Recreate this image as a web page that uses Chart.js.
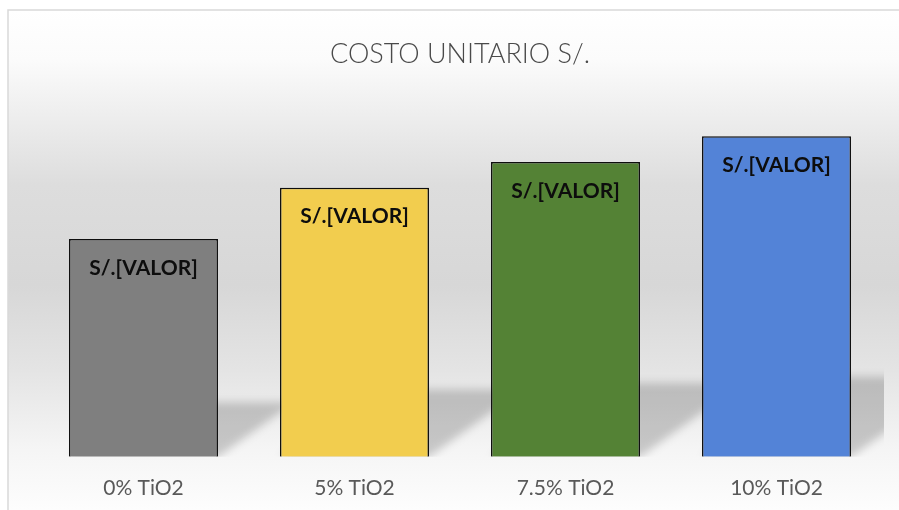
<!DOCTYPE html>
<html>
<head>
<meta charset="utf-8">
<script src="https://cdn.jsdelivr.net/npm/chart.js@4.4.1/dist/chart.umd.min.js"></script>
<style>
  html, body { margin: 0; padding: 0; background: #fff; }
  #wrap { width: 899px; height: 510px; position: relative; }
</style>
</head>
<body>
<div id="wrap"><canvas id="costo"></canvas></div>
<script>
const categorias = ['0% TiO2', '5% TiO2', '7.5% TiO2', '10% TiO2'];
const costos = [4.25, 5.25, 5.75, 6.25];
const colores = ['#7f7f7f', '#f2cd4e', '#548235', '#5383d7'];
const etiqueta = 'S/.[VALOR]';

// fondo con degradado vertical y marco gris claro
const fondo = {
    id: 'fondo',
    beforeDraw(chart) {
        const c = chart.ctx;
        c.save();
        c.fillStyle = '#fff';
        c.fillRect(0, 0, chart.width, chart.height);
        const g = c.createLinearGradient(0, 10, 0, 510);
        g.addColorStop(0, '#ffffff');
        g.addColorStop(0.1, '#fbfbfb');
        g.addColorStop(0.35, '#dddddd');
        g.addColorStop(0.55, '#d7d7d7');
        g.addColorStop(0.72, '#e4e4e4');
        g.addColorStop(0.88, '#f5f5f5');
        g.addColorStop(1, '#fdfdfd');
        c.fillStyle = g;
        c.fillRect(8, 10, chart.width - 8, chart.height - 10);
        c.strokeStyle = '#d9d9d9';
        c.lineWidth = 1.5;
        c.beginPath();
        c.moveTo(8, chart.height);
        c.lineTo(8, 10);
        c.lineTo(chart.width, 10);
        c.stroke();
        c.restore();
    }
};

// sombra en perspectiva detrás de cada barra
const sombras = {
    id: 'sombras',
    beforeDatasetsDraw(chart) {
        const c = chart.ctx;
        const area = chart.chartArea;
        c.save();
        c.beginPath();
        c.rect(area.left - 30, area.top, area.right - area.left + 32, area.bottom - area.top);
        c.clip();
        c.filter = 'blur(4px)';
        c.fillStyle = 'rgba(0,0,0,0.19)';
        chart.getDatasetMeta(0).data.forEach(bar => {
            const izq = bar.x - bar.width / 2;
            const der = bar.x + bar.width / 2;
            const alto = (bar.base - bar.y) * 0.25;
            const desvio = alto * 1.4;
            c.beginPath();
            c.moveTo(izq, bar.base);
            c.lineTo(der, bar.base);
            c.lineTo(der + desvio, bar.base - alto);
            c.lineTo(izq + desvio, bar.base - alto);
            c.closePath();
            c.fill();
        });
        c.restore();
    }
};

// texto de cada barra
const etiquetas = {
    id: 'etiquetas',
    afterDatasetsDraw(chart) {
        const c = chart.ctx;
        c.save();
        c.font = 'bold 21px Lato, "Liberation Sans", sans-serif';
        c.fillStyle = '#0d0d0d';
        c.textAlign = 'center';
        c.textBaseline = 'middle';
        chart.getDatasetMeta(0).data.forEach(bar => {
            c.fillText(etiqueta, bar.x, bar.y + 29);
        });
        c.restore();
    }
};

new Chart(document.getElementById('costo'), {
    type: 'bar',
    data: {
        labels: categorias,
        datasets: [{
            data: costos,
            backgroundColor: colores,
            borderColor: '#0d0d0d',
            borderWidth: 1.5,
            categoryPercentage: 1,
            barPercentage: 0.706
        }]
    },
    options: {
        responsive: true,
        maintainAspectRatio: false,
        animation: false,
        layout: { padding: { left: 38, right: 17, top: 0, bottom: -10 } },
        plugins: {
            legend: { display: false },
            tooltip: { enabled: false },
            title: {
                display: true,
                text: 'COSTO UNITARIO S/.',
                color: '#4a4a4a',
                font: { family: 'Lato, "Liberation Sans", sans-serif', size: 27, weight: 300 },
                padding: { top: 38, bottom: 7 }
            }
        },
        scales: {
            x: {
                grid: { display: false, drawTicks: false },
                border: { display: false },
                ticks: {
                    color: '#595959',
                    padding: 19,
                    font: { family: 'Lato, "Liberation Sans", sans-serif', size: 21 }
                }
            },
            y: {
                display: false,
                min: 0,
                max: 7.4
            }
        }
    },
    plugins: [fondo, sombras, etiquetas]
});
</script>
</body>
</html>
